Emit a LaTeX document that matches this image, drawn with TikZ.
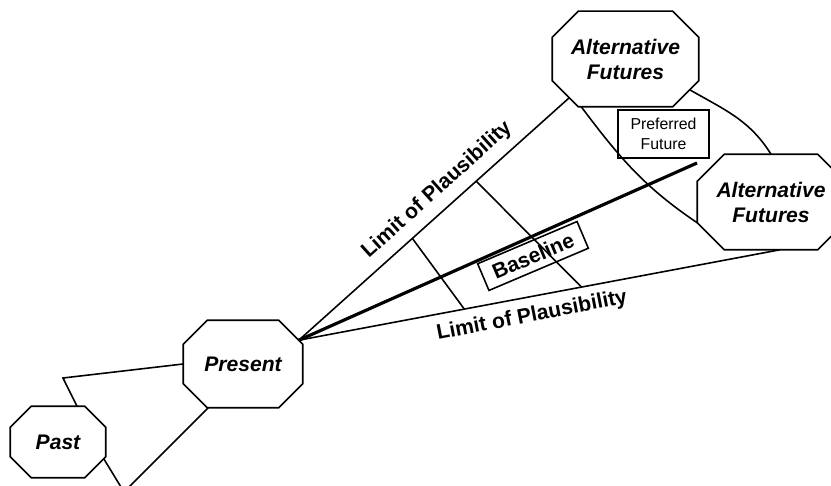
\documentclass[tikz,border=0pt]{standalone}
\usepackage{fontspec}
\setmainfont{Liberation Sans}
\usetikzlibrary{calc}
\tikzset{
  octbox/.style={inner sep=0pt,align=center,font=\fontsize{12}{14.2}\selectfont\bfseries\itshape},
  notebox/.style={draw,inner sep=0pt,align=center},
  limittext/.style={font=\fontsize{12}{14}\selectfont\bfseries},
}
\begin{document}
\begin{tikzpicture}[x=0.02cm,y=0.02cm,line width=0.9pt]
  \useasboundingbox (0,0) rectangle (831,486);
  % the stages
  \node[octbox,minimum width=1.88cm,minimum height=1.4cm] (past) at (58,44) {Past};
  \node[octbox,minimum width=2.36cm,minimum height=1.72cm] (present) at (243,122) {Present};
  \node[octbox,minimum width=2.9cm,minimum height=1.88cm] (aftop) at (625.5,427) {Alternative\\Futures};
  \node[octbox,minimum width=2.92cm,minimum height=1.88cm] (afright) at (771,284) {Alternative\\Futures};
  \foreach \n/\c in {past/21,present/24,aftop/26,afright/27}
    \draw ($(\n.north west)+(\c,0)$) -- ($(\n.north east)+(-\c,0)$) -- ($(\n.north east)+(0,-\c)$)
      -- ($(\n.south east)+(0,\c)$) -- ($(\n.south east)+(-\c,0)$) -- ($(\n.south west)+(\c,0)$)
      -- ($(\n.south west)+(0,\c)$) -- ($(\n.north west)+(0,-\c)$) -- cycle;
  \node[notebox,minimum width=1.82cm,minimum height=0.96cm,font=\fontsize{9}{11.4}\selectfont] (preferred) at (663.5,352) {Preferred\\Future};
  \node[notebox,minimum width=2.16cm,minimum height=0.58cm,rotate=23,limittext] (baseline) at (533,230) {Baseline};
  % the cone
  \coordinate (apex) at ($(present.north east)+(-4,-20)$);
  \coordinate (kink) at (63,108);
  \coordinate (funnel) at (124,-6);
  \coordinate (goal) at (697,323);
  \draw (present.west) -- (kink) -- ($(past.north)+(19,0)$);
  \draw ($(present.south west)+(25,0)$) -- (funnel) -- ($(past.south east)+(-2,19)$);
  \draw (apex) -- ($(aftop.south west)+(17,9)$) coordinate[pos=0.42] (u1) coordinate[pos=0.656] (u2);
  \draw (apex) -- ($(afright.south)+(9,0)$) coordinate[pos=0.344] (l1) coordinate[pos=0.5875] (l2);
  \draw (u1) -- (l1);
  \draw (u2) -- (l2);
  \draw[line width=1.8pt] (apex) -- (goal);
  \draw ($(aftop.south west)+(29,0)$) to[out=-53,in=146] ($(afright.south west)+(0,27)$);
  \draw ($(aftop.south east)+(-9,17)$) to[out=-30,in=122] (afright.north);
  \node[limittext,rotate=42] (uplimit) at (437,296) {Limit of Plausibility};
  \node[limittext,rotate=11] (lowlimit) at (532,170) {Limit of Plausibility};
\end{tikzpicture}
\end{document}
